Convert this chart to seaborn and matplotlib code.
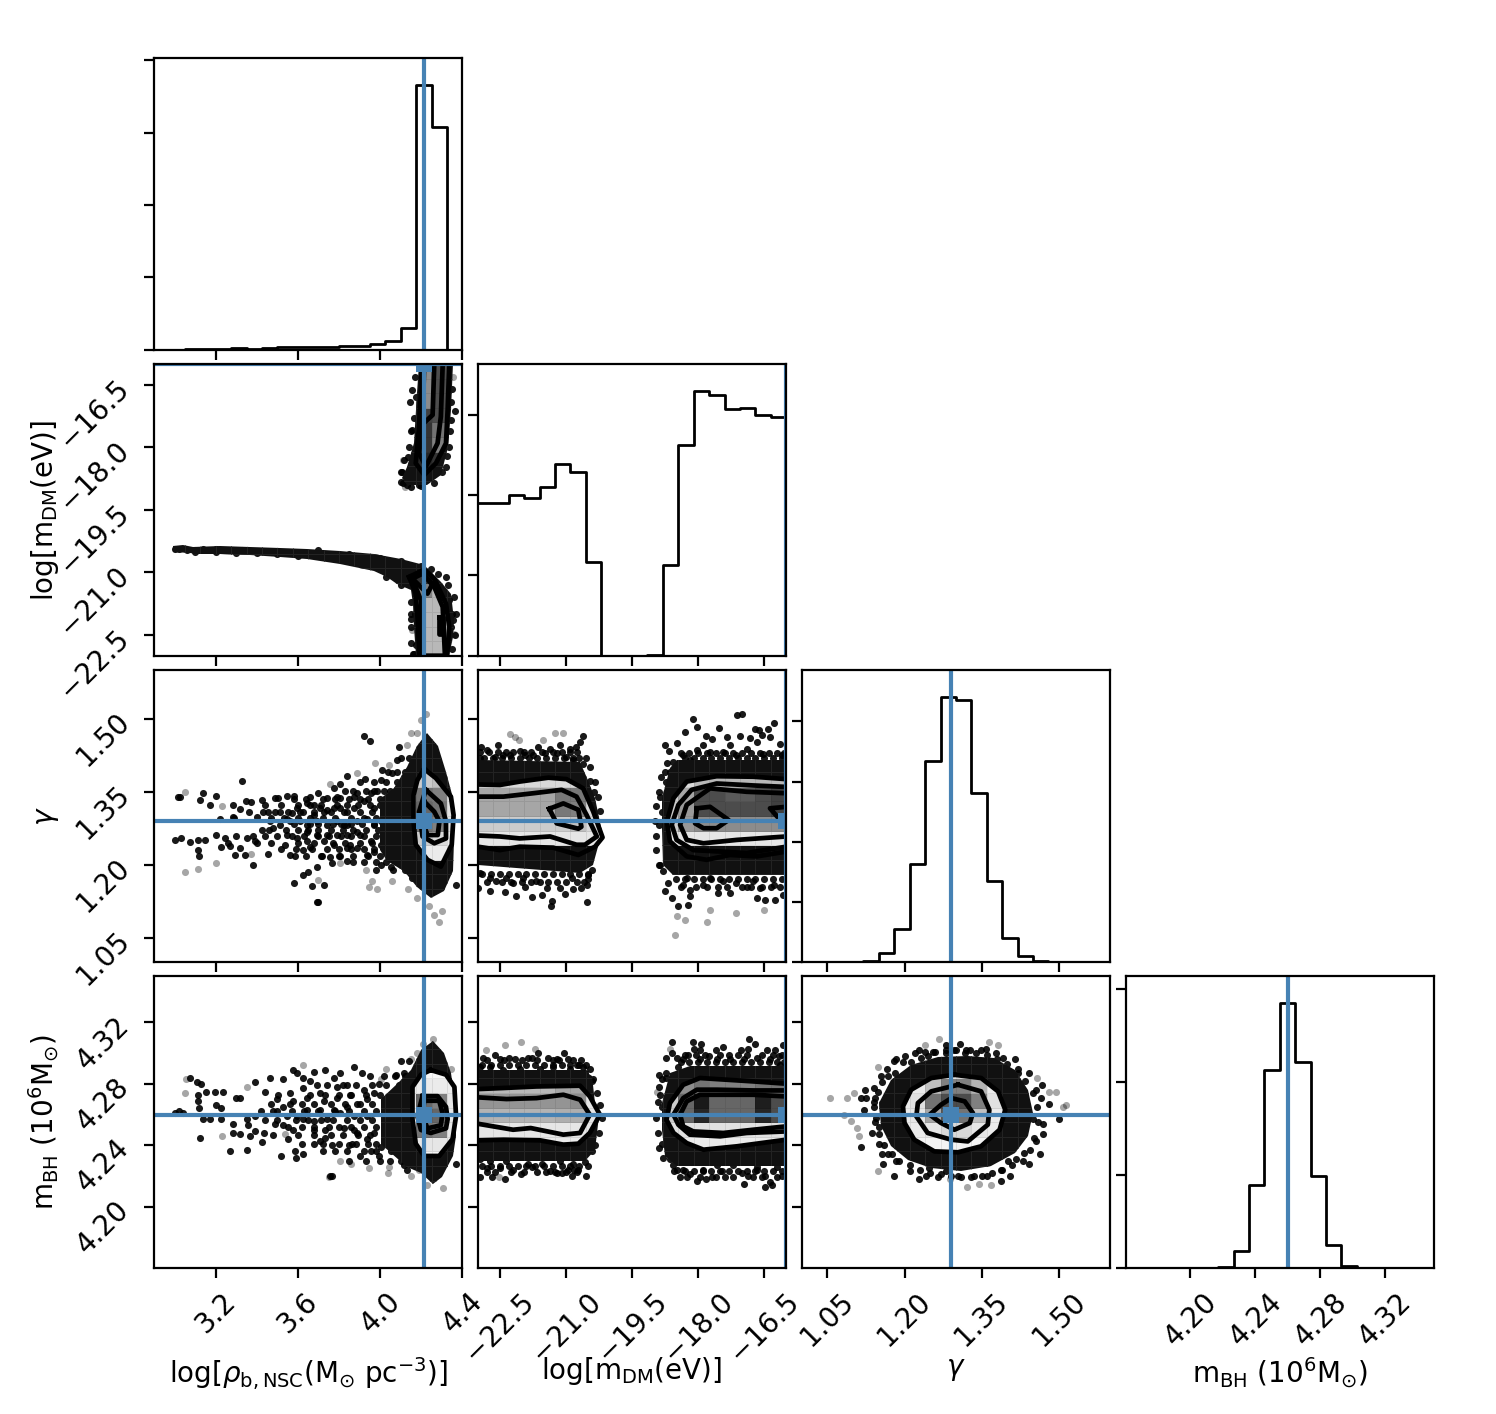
import numpy as np
import matplotlib
matplotlib.use('Agg')
import matplotlib.pyplot as plt
from matplotlib.patches import Polygon
import seaborn as sns

# axis ranges, ticks
rho_lim = (2.9, 4.4)
mdm_lim = (-23.0, -16.0)
gam_lim = (1.0, 1.6)
mbh_lim = (4.16, 4.35)
rho_ticks = [3.2, 3.6, 4.0, 4.4]
mdm_ticks = [-22.5, -21.0, -19.5, -18.0, -16.5]
gam_ticks = [1.05, 1.20, 1.35, 1.50]
mbh_ticks = [4.20, 4.24, 4.28, 4.32]
labels = [r'log[$\rho_{\rm b,NSC}$(M$_{\odot}$ pc$^{-3}$)]', r'log[m$_{\rm DM}$(eV)]',
          r'$\gamma$', r'm$_{\rm BH}$ (10$^6$M$_{\odot}$)']
truths = [4.212, -16.0, 1.29, 4.26]

# histogram heights (in y tick units), 20 bins each
hist_rho = [0, 0, .01, .01, .01, .02, .01, .02, .03, .04, .04, .04, .045, .055, .075, .115, .295, 3.665, 3.08, 0]
hist_mdm = [1.896, 1.896, 2.0, 1.958, 2.096, 2.39, 2.283, 1.167, 0, 0, 0, .0125, 1.133, 2.62, 3.3, 3.24, 3.07, 3.09, 3.0, 2.97]
hist_gam = [0, 0, 0, 0, .01, .14, .544, 1.628, 3.344, 4.41, 4.36, 2.806, 1.339, .389, .094, .01, 0, 0, 0, 0]
hist_mbh = [0, 0, 0, 0, 0, 0, .014, .187, .888, 2.13, 2.853, 2.216, .993, .248, .022, 0, 0, 0, 0, 0]
hist_yticks = [[0, 1, 2, 3, 4], [0, 1, 2, 3], [0, 1, 2, 3, 4], [0, 1, 2, 3]]

# --- rho / mdm panel
rm_core_low_x = [2.991, 3.04, 3.089, 3.22, 3.366, 3.513, 3.643, 3.806, 3.969, 4.1, 4.214, 4.295, 4.344, 4.357, 4.352, 4.336, 4.173, 4.165, 4.162, 4.149, 4.083, 4.035, 3.969, 3.806, 3.643, 3.513, 3.366, 3.22, 3.105, 3.073, 2.991]
rm_core_low_y = [-20.36, -20.35, -20.39, -20.37, -20.38, -20.41, -20.43, -20.48, -20.56, -20.67, -20.83, -21.23, -21.51, -22.15, -22.55, -23.0, -23.0, -22.31, -21.75, -21.43, -21.27, -21.1, -20.96, -20.79, -20.67, -20.63, -20.59, -20.56, -20.56, -20.53, -20.5]
rm_core_up_x = [4.189, 4.181, 4.165, 4.132, 4.108, 4.132, 4.23, 4.295, 4.328, 4.344, 4.352]
rm_core_up_y = [-16.0, -16.7, -17.9, -18.46, -18.74, -18.9, -18.9, -18.66, -17.98, -17.1, -16.0]
rm_up_outer_x = [4.336, 4.328, 4.32, 4.271, 4.214, 4.173, 4.189, 4.198, 4.201]
rm_up_outer_y = [-16.0, -17.1, -17.9, -18.38, -18.66, -18.38, -17.5, -16.7, -16.0]
rm_up_mid_x = [4.304, 4.295, 4.279, 4.222, 4.189, 4.206, 4.214]
rm_up_mid_y = [-16.0, -17.26, -17.9, -18.46, -18.14, -17.42, -16.0]
rm_up_in_x = [4.263, 4.255, 4.222]
rm_up_in_y = [-16.0, -17.22, -17.37]
rm_low_outer_x = [4.141, 4.214, 4.263, 4.32, 4.336, 4.325, 4.189, 4.184, 4.173, 4.141]
rm_low_outer_y = [-21.11, -20.93, -21.15, -21.75, -22.31, -23.0, -23.0, -22.23, -21.51, -21.11]
rm_low_mid_x = [4.157, 4.206, 4.263, 4.304, 4.315]
rm_low_mid_y = [-21.15, -21.03, -21.35, -21.83, -23.0]
rm_low_mid2_x = [4.201, 4.198, 4.157]
rm_low_mid2_y = [-23.0, -21.67, -21.15]
rm_low_in_x = [4.149, 4.23, 4.255, 4.206]
rm_low_in_y = [-21.11, -21.51, -21.27, -21.03]
rm_low_blob_x = [4.287, 4.304, 4.304, 4.287, 4.287]
rm_low_blob_y = [-22.07, -22.07, -22.47, -22.47, -22.07]
rm_up_cells = [[.1, .1, .1, .1], [.1, .15, .2, .1], [.1, .2, .5, .1], [.1, .2, .45, .1],
               [.1, .25, .3, .1], [.1, .55, .3, .1], [.1, .55, .3, .1], [.1, .55, .3, .1]]
rm_low_cells = [[.1, .72, .72, .1], [.1, .72, .72, .1], [.1, .72, .72, .1], [.1, .72, .72, .1],
                [.1, .5, .72, .1], [.1, .2, .3, .1]]
rm_dark_x = [4.157, 4.145, 4.157, 4.136, 4.108, 4.1, 4.365, 4.344, 4.336, 4.32, 4.132, 4.189, 4.149, 4.168, 4.352, 4.344, 4.173, 4.336, 4.165, 4.347, 4.32, 4.246, 3.0, 3.02, 3.06, 3.1, 3.14, 3.2, 3.26, 3.33, 3.4, 3.47, 3.55, 3.62, 3.7, 3.78, 3.86, 3.94, 4.02, 4.1, 4.16,
             4.17, 4.175, 4.165, 4.15, 4.14, 4.115, 4.1, 4.35, 4.345, 4.34, 4.325, 4.3, 4.26, 4.2, 4.15, 4.11,
             3.1, 3.2, 3.3, 3.4, 3.5, 3.6, 3.7, 3.85, 4.0, 4.1, 4.2, 4.28, 4.33, 4.36, 4.37, 4.365, 4.35, 4.15, 4.15, 4.15, 4.15, 4.16, 4.1, 4.03]
rm_dark_y = [-16.62, -16.9, -17.58, -18.22, -18.58, -18.82, -17.12, -17.34, -17.98, -18.46, -18.9, -18.9, -22.11, -21.99, -22.15, -22.31, -22.75, -21.67, -22.95, -21.99, -21.11, -20.91, -20.45, -20.43, -20.47, -20.46, -20.44, -20.45, -20.47, -20.47, -20.49, -20.5, -20.52, -20.56, -20.6, -20.64, -20.7, -20.76, -20.82, -20.9, -21.05,
             -16.3, -16.8, -17.3, -17.6, -18.0, -18.3, -18.6, -16.6, -16.9, -17.6, -18.2, -18.6, -18.85, -18.92, -18.95, -18.85,
             -20.52, -20.5, -20.53, -20.54, -20.55, -20.6, -20.47, -20.56, -20.66, -20.72, -20.85, -21.05, -21.3, -21.6, -22.0, -22.5, -22.85, -21.7, -22.0, -22.3, -22.7, -22.95, -21.3, -21.1]
rm_light_x = [4.352, 4.157, 4.357, 4.059, 4.11, 4.12]
rm_light_y = [-16.3, -22.39, -22.47, -21.03, -18.3, -18.95]

# --- rho / gamma panel
rg_core_x = [4.0, 4.067, 4.132, 4.181, 4.23, 4.279, 4.32, 4.352, 4.361, 4.352, 4.312, 4.246, 4.181, 4.116, 4.035, 4.0]
rg_core_y = [1.335, 1.357, 1.4, 1.445, 1.47, 1.445, 1.391, 1.337, 1.248, 1.186, 1.145, 1.131, 1.155, 1.186, 1.207, 1.23]
rg_outer_x = [4.214, 4.271, 4.344, 4.357, 4.348, 4.295, 4.23, 4.173, 4.162, 4.162, 4.181, 4.214]
rg_outer_y = [1.397, 1.378, 1.34, 1.302, 1.241, 1.196, 1.21, 1.241, 1.289, 1.343, 1.374, 1.397]
rg_mid_x = [4.222, 4.295, 4.32, 4.32, 4.263, 4.206, 4.189, 4.222]
rg_mid_y = [1.354, 1.326, 1.289, 1.254, 1.244, 1.258, 1.309, 1.354]
rg_in_x = [4.214, 4.263, 4.288, 4.28, 4.23, 4.206, 4.214]
rg_in_y = [1.33, 1.309, 1.289, 1.261, 1.261, 1.289, 1.33]
rg_cells = [[.92, .92, .92, .92], [.92, .8, .85, .92], [.92, .45, .5, .88], [.92, .4, .45, .88],
            [.92, .45, .5, .88], [.92, .8, .75, .92], [.95, .95, .85, .95], [.95, .95, .95, .95]]
rg_dark_x = [3.016, 3.027, 3.138, 3.203, 3.123, 3.171, 3.285, 3.329, 3.347, 3.374, 3.423, 3.489, 3.505, 3.546, 3.581, 3.399, 3.22, 3.285, 3.317, 3.456, 3.513, 3.57, 3.627, 3.66, 3.7, 3.774, 3.79, 3.803, 3.839, 3.904, 3.924, 3.92, 3.95, 4.002, 3.986, 4.092, 4.083, 4.01, 4.059, 3.872, 3.806, 3.741, 3.709, 3.676,
             3.0, 3.032, 3.073, 3.114, 3.146, 3.203, 3.244, 3.228, 3.268, 3.317, 3.114, 3.117, 3.293, 3.342, 3.383, 3.456, 3.35, 3.391, 3.423, 3.48, 3.546, 3.594, 3.537, 3.559, 3.586, 3.627, 3.66, 3.717, 3.754, 3.806, 3.855, 3.953, 3.904, 3.969, 4.002, 4.051, 4.1, 3.583, 3.624, 3.651, 3.668, 3.725, 3.692, 3.7, 3.692, 3.766, 3.839, 4.157,
             3.643, 3.692, 3.741, 3.79, 3.839, 3.888, 3.937, 3.676, 3.725, 3.774, 3.823, 3.872, 3.92, 3.969, 3.692, 3.741, 3.79, 3.839, 3.888, 3.823, 3.611, 3.643, 3.513, 3.562, 3.546, 3.464, 3.594, 3.643, 3.741, 3.806, 3.888, 3.953, 3.969, 4.002, 4.035, 4.035, 4.002, 3.937, 3.888, 3.839, 3.774, 3.725, 3.643, 4.035, 4.083, 4.369]
rg_dark_y = [1.34, 1.339, 1.347, 1.341, 1.333, 1.323, 1.323, 1.373, 1.33, 1.328, 1.334, 1.337, 1.338, 1.342, 1.341, 1.299, 1.294, 1.298, 1.315, 1.309, 1.309, 1.306, 1.309, 1.34, 1.347, 1.357, 1.34, 1.366, 1.382, 1.371, 1.376, 1.464, 1.455, 1.374, 1.352, 1.443, 1.415, 1.395, 1.388, 1.34, 1.316, 1.313, 1.316, 1.302,
             1.25, 1.254, 1.246, 1.251, 1.251, 1.261, 1.254, 1.236, 1.239, 1.234, 1.231, 1.218, 1.22, 1.22, 1.2, 1.222, 1.254, 1.248, 1.272, 1.275, 1.261, 1.254, 1.241, 1.22, 1.217, 1.23, 1.237, 1.217, 1.215, 1.217, 1.241, 1.248, 1.261, 1.227, 1.2, 1.196, 1.2, 1.162, 1.179, 1.185, 1.157, 1.159, 1.123, 1.124, 1.195, 1.203, 1.207, 1.172,
             1.282, 1.289, 1.282, 1.289, 1.282, 1.289, 1.295, 1.323, 1.309, 1.316, 1.309, 1.316, 1.33, 1.316, 1.261, 1.261, 1.261, 1.261, 1.268, 1.282, 1.289, 1.268, 1.282, 1.289, 1.295, 1.289, 1.316, 1.326, 1.337, 1.337, 1.347, 1.347, 1.282, 1.289, 1.302, 1.268, 1.241, 1.22, 1.234, 1.234, 1.241, 1.248, 1.248, 1.234, 1.227, 1.159]
rg_more = [(1.42, [4.1, 4.14]), (1.39, [4.04, 4.08, 4.12]), (1.37, [3.97, 4.03, 4.08]),
           (1.352, [3.83, 3.87, 3.93, 3.97, 4.02, 4.05]), (1.335, [3.58, 3.64, 3.72, 3.78, 3.85, 3.9, 3.94, 4.0]),
           (1.322, [3.44, 3.52, 3.6, 3.66, 3.71, 3.79, 3.84, 3.89, 3.95, 4.0]), (1.308, [3.36, 3.43, 3.49, 3.55, 3.61, 3.68, 3.76, 3.84, 3.9, 3.96]),
           (1.296, [3.29, 3.47, 3.53, 3.6, 3.66, 3.72, 3.78, 3.86, 3.92, 3.98]), (1.284, [3.58, 3.66, 3.7, 3.77, 3.81, 3.86, 3.91, 3.97]),
           (1.272, [3.46, 3.54, 3.6, 3.65, 3.7, 3.76, 3.82, 3.87, 3.93, 3.99]), (1.258, [3.3, 3.38, 3.44, 3.5, 3.57, 3.63, 3.7, 3.75, 3.81, 3.86, 3.92, 3.98]),
           (1.245, [3.26, 3.4, 3.47, 3.6, 3.68, 3.77, 3.83, 3.9, 3.96]), (1.232, [3.52, 3.59, 3.67, 3.74, 3.8, 3.86, 3.92, 3.97]),
           (1.218, [3.64, 3.71, 3.8, 3.87, 3.94, 4.0]), (1.205, [3.87, 3.92, 3.98, 4.03, 4.08]), (1.19, [3.98, 4.06, 4.12])]
rg_light_x = [3.052, 3.114, 3.052, 3.2, 3.374, 3.231, 3.929, 3.948, 3.986, 3.961, 4.059, 4.137, 4.181, 4.238, 4.263, 4.303, 4.287, 3.974, 4.149, 4.222, 4.198, 3.757, 3.888, 4.043, 4.132, 4.181, 3.7, 3.806]
rg_light_y = [1.35, 1.191, 1.185, 1.203, 1.222, 1.321, 1.189, 1.155, 1.15, 1.167, 1.166, 1.15, 1.131, 1.114, 1.097, 1.104, 1.083, 1.41, 1.471, 1.511, 1.497, 1.367, 1.388, 1.405, 1.446, 1.47, 1.169, 1.203]

# --- rho / mbh panel
rb_core_x = [4.002, 4.083, 4.149, 4.198, 4.255, 4.312, 4.344, 4.369, 4.369, 4.352, 4.303, 4.255, 4.198, 4.132, 4.051, 4.002]
rb_core_y = [4.27, 4.28, 4.289, 4.302, 4.308, 4.3, 4.287, 4.263, 4.246, 4.233, 4.219, 4.215, 4.222, 4.226, 4.235, 4.241]
rb_outer_x = [4.246, 4.32, 4.361, 4.369, 4.352, 4.287, 4.214, 4.173, 4.157, 4.157, 4.198, 4.246]
rb_outer_y = [4.289, 4.286, 4.278, 4.259, 4.244, 4.233, 4.233, 4.241, 4.257, 4.278, 4.286, 4.289]
rb_mid_x = [4.206, 4.279, 4.32, 4.328, 4.32, 4.246, 4.198, 4.181, 4.206]
rb_mid_y = [4.272, 4.272, 4.265, 4.257, 4.251, 4.248, 4.25, 4.259, 4.272]
rb_in_x = [4.214, 4.287, 4.303, 4.295, 4.23, 4.206, 4.214]
rb_in_y = [4.269, 4.269, 4.261, 4.253, 4.251, 4.259, 4.269]
rb_cells = [[.96, .96, .96, .96], [.9, .9, .9, .9], [.9, .45, .5, .9], [.9, .35, .4, .9],
            [.9, .4, .5, .9], [.92, .92, .92, .92], [.97, .97, .97, .97], [.97, .97, .97, .97]]
rb_dark_x = [3.024, 3.004, 3.04, 3.073, 3.109, 3.13, 3.151, 3.195, 3.236, 3.114, 3.114, 3.119, 3.203, 3.228, 3.301, 3.317, 3.391, 3.464, 3.529, 3.44, 3.505, 3.497, 3.562, 3.578, 3.594, 3.627, 3.676, 3.66, 3.692, 3.627, 3.733, 3.774, 3.806, 3.872, 3.912, 3.839, 3.79, 3.709, 3.643, 3.578, 3.529, 3.48,
             3.138, 3.171, 3.228, 3.285, 3.35, 3.391, 3.358, 3.489, 3.529, 3.578, 3.627, 3.676, 3.733, 3.823, 3.872, 3.122, 3.285, 3.317, 3.366, 3.391, 3.435, 3.423, 3.554, 3.586, 3.627, 3.516, 3.591, 3.268, 3.35, 3.709, 3.733, 3.766, 3.847, 3.904, 3.863, 3.766, 3.757, 3.953, 3.994, 4.051, 4.116, 4.132,
             3.643, 3.709, 3.774, 3.839, 3.888, 3.937, 3.969, 3.676, 3.741, 3.806, 3.872, 3.937, 3.969, 3.888, 3.937, 4.002, 3.594, 3.546, 3.725, 3.79, 3.855, 3.92, 3.994, 4.075, 4.116, 4.067, 4.1, 4.369]
rb_dark_y = [4.262, 4.261, 4.261, 4.284, 4.281, 4.28, 4.275, 4.275, 4.275, 4.273, 4.269, 4.264, 4.266, 4.264, 4.271, 4.271, 4.281, 4.284, 4.283, 4.275, 4.273, 4.27, 4.274, 4.289, 4.287, 4.284, 4.288, 4.282, 4.279, 4.277, 4.289, 4.284, 4.287, 4.291, 4.287, 4.279, 4.278, 4.274, 4.271, 4.269, 4.265, 4.262,
             4.257, 4.257, 4.257, 4.254, 4.257, 4.259, 4.253, 4.254, 4.253, 4.25, 4.257, 4.256, 4.25, 4.251, 4.25, 4.245, 4.248, 4.247, 4.246, 4.249, 4.248, 4.242, 4.244, 4.236, 4.234, 4.233, 4.232, 4.236, 4.237, 4.243, 4.245, 4.24, 4.24, 4.233, 4.241, 4.22, 4.22, 4.236, 4.233, 4.236, 4.227, 4.224,
             4.263, 4.263, 4.263, 4.265, 4.267, 4.27, 4.274, 4.25, 4.257, 4.261, 4.259, 4.259, 4.248, 4.248, 4.244, 4.239, 4.259, 4.259, 4.269, 4.271, 4.273, 4.276, 4.28, 4.286, 4.287, 4.241, 4.236, 4.228]
rb_more = [(4.295, [4.1, 4.14]), (4.285, [3.95, 4.02, 4.07, 4.12]), (4.279, [3.74, 3.82, 3.88, 3.96, 4.03, 4.09]),
           (4.273, [3.66, 3.73, 3.8, 3.86, 3.93, 4.0]), (4.267, [3.47, 3.56, 3.62, 3.68, 3.76, 3.83, 3.9, 3.96]),
           (4.262, [3.42, 3.5, 3.57, 3.63, 3.7, 3.78, 3.85, 3.92, 3.98]), (4.2565, [3.44, 3.5, 3.59, 3.65, 3.71, 3.77, 3.84, 3.9, 3.96]),
           (4.252, [3.55, 3.62, 3.68, 3.75, 3.8, 3.86, 3.92, 3.98]), (4.2465, [3.48, 3.6, 3.68, 3.76, 3.82, 3.89, 3.95]),
           (4.241, [3.62, 3.68, 3.72, 3.8, 3.88, 3.94, 3.98]), (4.236, [3.72, 3.78, 3.84, 3.92, 3.98]), (4.23, [3.85, 3.93, 4.0, 4.05, 4.1])]
rb_light_x = [3.052, 3.057, 3.35, 3.233, 3.537, 3.627, 3.806, 3.86, 3.945, 4.039, 4.043, 4.026, 4.002, 4.149, 4.181, 4.149, 4.189, 4.23, 4.304, 4.255, 4.206, 4.344, 3.749]
rb_light_y = [4.274, 4.283, 4.278, 4.246, 4.247, 4.292, 4.23, 4.228, 4.225, 4.222, 4.226, 4.29, 4.283, 4.296, 4.3, 4.22, 4.224, 4.214, 4.212, 4.309, 4.306, 4.29, 4.219]

# --- mdm / gamma panel
mg_core_l_x = [-23.0, -20.68, -20.53, -20.34, -20.19, -20.38, -20.68, -23.0]
mg_core_l_y = [1.415, 1.412, 1.378, 1.337, 1.268, 1.2, 1.183, 1.2]
mg_core_r_x = [-18.64, -18.49, -16.0, -16.0, -18.56, -18.79, -18.83, -18.83]
mg_core_r_y = [1.398, 1.415, 1.415, 1.179, 1.179, 1.2, 1.275, 1.337]
mg_l_outer_x = [-23.0, -22.5, -22.05, -21.4, -20.99, -20.61, -20.38, -20.17, -20.34, -20.72, -21.29, -22.05, -22.5, -23.0]
mg_l_outer_y = [1.365, 1.364, 1.371, 1.379, 1.376, 1.357, 1.309, 1.256, 1.237, 1.22, 1.235, 1.237, 1.23, 1.237]
mg_l_mid_x = [-23.0, -22.42, -21.74, -21.1, -20.76, -20.53, -20.3, -20.57, -20.76, -21.36, -22.05, -22.5, -23.0]
mg_l_mid_y = [1.34, 1.34, 1.347, 1.354, 1.34, 1.302, 1.258, 1.241, 1.241, 1.258, 1.254, 1.258, 1.26]
mg_l_in_x = [-21.38, -21.06, -20.72, -20.65, -20.72, -21.21, -21.38]
mg_l_in_y = [1.315, 1.326, 1.313, 1.278, 1.274, 1.285, 1.315]
mg_r_outer_x = [-16.0, -16.75, -17.58, -18.26, -18.56, -18.71, -18.64, -18.26, -17.81, -17.28, -16.67, -16.0]
mg_r_outer_y = [1.376, 1.381, 1.382, 1.371, 1.337, 1.289, 1.248, 1.217, 1.21, 1.22, 1.217, 1.227]
mg_r_mid_x = [-16.0, -16.75, -17.58, -18.15, -18.45, -18.6, -18.49, -18.11, -17.5, -16.9, -16.0]
mg_r_mid_y = [1.36, 1.363, 1.367, 1.354, 1.323, 1.282, 1.251, 1.23, 1.227, 1.224, 1.237]
mg_r_mid2_x = [-16.0, -16.9, -17.73, -18.26, -18.41, -18.26, -17.88, -17.12, -16.0]
mg_r_mid2_y = [1.347, 1.35, 1.357, 1.323, 1.282, 1.251, 1.244, 1.251, 1.258]
mg_r_in_x = [-18.03, -17.73, -17.31, -17.58, -17.88, -18.07, -18.03]
mg_r_in_y = [1.316, 1.319, 1.292, 1.275, 1.275, 1.285, 1.316]
mg_r_in2_x = [-16.0, -16.37, -16.14, -16.0]
mg_r_in2_y = [1.319, 1.316, 1.292, 1.289]
mg_l_cells = [[.9] * 8, [.8, .8, .8, .8, .8, .8, .75, .85], [.65, .65, .65, .65, .65, .47, .5, .85],
              [.65, .65, .65, .65, .65, .47, .47, .9], [.85, .85, .85, .85, .85, .85, .85, .9], [.92] * 8]
mg_r_cells = [[.9] * 8, [.8, .6, .55, .55, .55, .55, .55, .55], [.8, .6, .3, .3, .3, .3, .3, .25],
              [.8, .65, .3, .3, .35, .35, .3, .25], [.85, .85, .72, .72, .72, .72, .72, .72], [.92] * 8]
mg_dark_x = [-20.61, -20.68, -20.77, -21.14, -22.54, -22.92, -22.8, -22.27, -22.05, -21.63, -21.36, -20.91, -20.61, -20.46, -20.37, -20.46, -21.93, -21.21, -20.99, -20.83, -22.95, -22.61, -22.42, -21.74, -21.48,
             -22.95, -22.73, -22.58, -22.35, -22.2, -21.93, -21.55, -22.14, -21.78, -22.39, -22.73, -21.33, -21.31, -20.53, -20.52, -21.02, -20.83, -20.65, -21.14, -21.44, -21.67, -21.97, -20.87, -20.76, -20.49, -22.99,
             -18.11, -18.02, -18.31, -18.75, -18.47, -18.66, -17.82, -17.52, -17.11, -17.0, -16.29, -16.71, -16.63, -16.41, -17.35, -17.69, -17.88, -18.34, -17.73, -18.03, -17.28, -17.05, -16.82, -16.56, -16.14, -16.37, -16.67, -16.9, -16.52, -16.1, -17.43, -17.13, -18.19, -18.56, -18.64, -18.72, -18.87, -18.83, -18.9,
             -18.87, -18.79, -18.68, -18.75, -18.6, -18.45, -18.19, -18.34, -18.19, -18.22, -17.56, -17.88, -17.28, -17.13, -16.9, -16.67, -16.48, -16.25, -16.07, -16.29, -16.75, -17.43, -16.6, -18.26, -17.73,
             -18.85, -18.9, -18.95, -18.98, -18.95, -18.95, -18.9, -18.75, -18.7, -20.45, -20.35, -20.28, -20.22, -20.4, -20.5]
mg_dark_y = [1.464, 1.453, 1.443, 1.446, 1.446, 1.443, 1.436, 1.425, 1.434, 1.443, 1.439, 1.439, 1.408, 1.373, 1.35, 1.323, 1.425, 1.429, 1.422, 1.415, 1.419, 1.422, 1.425, 1.425, 1.429,
             1.183, 1.172, 1.166, 1.172, 1.162, 1.155, 1.138, 1.136, 1.133, 1.144, 1.145, 1.114, 1.126, 1.123, 1.159, 1.14, 1.15, 1.152, 1.152, 1.152, 1.166, 1.172, 1.172, 1.196, 1.179, 1.152,
             1.499, 1.484, 1.472, 1.447, 1.451, 1.434, 1.465, 1.482, 1.508, 1.511, 1.492, 1.48, 1.477, 1.48, 1.463, 1.458, 1.446, 1.425, 1.432, 1.436, 1.446, 1.465, 1.46, 1.466, 1.449, 1.463, 1.453, 1.439, 1.427, 1.425, 1.432, 1.425, 1.415, 1.412, 1.391, 1.371, 1.34, 1.309, 1.282,
             1.2, 1.186, 1.162, 1.145, 1.131, 1.114, 1.148, 1.159, 1.135, 1.118, 1.142, 1.159, 1.142, 1.162, 1.155, 1.131, 1.128, 1.128, 1.138, 1.159, 1.166, 1.166, 1.152, 1.172, 1.172,
             1.38, 1.35, 1.32, 1.29, 1.26, 1.23, 1.2, 1.39, 1.41, 1.40, 1.37, 1.34, 1.31, 1.19, 1.17]
mg_more = [(1.432, [-22.95, -22.75, -22.55, -22.35, -22.2, -21.95, -21.8, -21.55, -21.3, -21.1, -20.9, -20.75]),
           (1.42, [-22.85, -22.65, -22.45, -22.25, -22.05, -21.85, -21.65, -21.45, -21.25, -21.05, -20.85, -20.7, -20.55]),
           (1.18, [-22.9, -22.7, -22.5, -22.3, -22.1, -21.9, -21.7, -21.5, -21.3, -21.1, -20.9, -20.7, -20.5]),
           (1.165, [-22.8, -22.45, -22.25, -22.0, -21.8, -21.6, -21.4, -21.2, -21.0, -20.75, -20.6]),
           (1.43, [-18.4, -18.2, -18.0, -17.8, -17.6, -17.4, -17.2, -17.0, -16.8, -16.6, -16.4, -16.2, -16.05]),
           (1.42, [-18.3, -18.1, -17.9, -17.7, -17.5, -17.3, -17.1, -16.9, -16.7, -16.5, -16.3, -16.1]),
           (1.17, [-18.5, -18.3, -18.1, -17.9, -17.7, -17.5, -17.3, -17.1, -16.9, -16.7, -16.5, -16.3, -16.1]),
           (1.155, [-18.4, -18.05, -17.8, -17.55, -17.35, -17.0, -16.8, -16.55, -16.35, -16.15])]
mg_light_x = [-22.26, -22.16, -22.06, -21.24, -21.06, -21.52, -18.47, -18.3, -18.53, -17.81, -17.73, -17.14, -16.5]
mg_light_y = [1.468, 1.463, 1.456, 1.47, 1.471, 1.456, 1.094, 1.087, 1.056, 1.082, 1.107, 1.101, 1.107]

# --- mdm / mbh panel
mb_core_l_x = [-23.0, -20.61, -20.42, -20.34, -20.26, -20.34, -20.57, -23.0]
mb_core_l_y = [4.2892, 4.2892, 4.2848, 4.2675, 4.2588, 4.2371, 4.2295, 4.2295]
mb_core_r_x = [-18.64, -18.19, -16.0, -16.0, -18.49, -18.75, -18.83, -18.83]
mb_core_r_y = [4.287, 4.2914, 4.2914, 4.2263, 4.2263, 4.2328, 4.2501, 4.2675]
mb_l_outer_x = [-23.0, -22.42, -21.67, -20.68, -20.46, -20.23, -20.46, -20.72, -21.06, -21.59, -22.42, -23.0]
mb_l_outer_y = [4.2766, 4.2773, 4.2783, 4.2788, 4.2718, 4.2599, 4.248, 4.241, 4.2404, 4.2432, 4.2436, 4.2432]
mb_l_mid_x = [-23.0, -22.35, -21.67, -21.06, -20.68, -20.46, -20.68, -21.06, -21.8, -22.2, -23.0]
mb_l_mid_y = [4.2712, 4.2701, 4.2707, 4.2729, 4.2697, 4.2599, 4.248, 4.2469, 4.2512, 4.2501, 4.254]
mb_r_outer_x = [-16.0, -16.75, -17.58, -17.96, -18.34, -18.64, -18.72, -18.56, -18.26, -17.88, -17.12, -16.0]
mb_r_outer_y = [4.2801, 4.2816, 4.2831, 4.2838, 4.2794, 4.2675, 4.2566, 4.248, 4.2414, 4.2371, 4.2393, 4.2436]
mb_r_mid_x = [-16.0, -16.75, -17.58, -18.03, -18.34, -18.56, -18.45, -18.19, -17.5, -16.9, -16.0]
mb_r_mid_y = [4.2757, 4.2757, 4.2762, 4.2762, 4.2707, 4.2599, 4.2534, 4.2469, 4.2458, 4.248, 4.249]
mb_r_in_x = [-16.0, -16.75, -17.58, -17.96, -18.26, -18.41, -18.34, -18.11, -17.43, -16.75, -16.0]
mb_r_in_y = [4.2718, 4.2729, 4.2729, 4.2729, 4.2686, 4.2599, 4.2523, 4.2490, 4.248, 4.2501, 4.2523]
mb_l_cells = [[.92] * 8, [.9] * 8, [.7, .7, .7, .7, .7, .68, .68, .9], [.58, .58, .58, .58, .58, .58, .55, .9],
              [.72, .72, .72, .72, .72, .65, .65, .9], [.92] * 8]
mb_r_cells = [[.92] * 8, [.88] * 8, [.8, .4, .15, .4, .4, .4, .15, .3], [.8, .4, .1, .4, .4, .4, .12, .3],
              [.85, .55, .45, .5, .5, .5, .45, .45], [.92] * 8]
mb_dark_x = [-22.88, -22.61, -22.5, -22.29, -22.16, -21.86, -21.78, -21.64, -21.4, -21.04, -21.2, -20.95, -20.76, -20.61, -20.46, -22.95, -22.73, -22.42, -22.05, -21.59, -21.29, -20.91, -20.57, -20.38,
             -22.95, -22.69, -22.39, -22.8, -22.5, -22.2, -22.01, -21.86, -21.78, -21.36, -21.21, -21.08, -20.95, -20.81, -20.72, -20.55, -20.57, -20.87, -22.95, -22.73, -22.35, -21.55, -21.14, -20.83, -20.42,
             -18.6, -18.72, -18.6, -18.47, -18.88, -18.11, -17.94, -17.96, -18.09, -18.22, -17.6, -17.43, -16.84, -16.72, -17.03, -16.88, -16.44, -16.25, -16.16, -16.07, -17.75, -17.96, -17.58, -17.28, -16.97, -16.67, -16.37, -16.14, -18.34, -18.45, -18.72, -18.83,
             -18.83, -18.87, -18.83, -18.64, -18.56, -18.41, -18.34, -18.19, -18.02, -17.82, -17.69, -17.47, -17.2, -17.01, -16.97, -16.86, -16.67, -16.48, -16.37, -16.48, -16.33, -16.1, -17.88, -17.58, -16.67, -16.22, -18.49,
             -18.9, -18.92, -18.95, -18.92, -18.9, -18.8, -18.72, -20.4, -20.3, -20.22, -20.18, -20.25, -20.35]
mb_dark_y = [4.297, 4.299, 4.296, 4.297, 4.296, 4.297, 4.297, 4.3, 4.297, 4.3, 4.296, 4.296, 4.292, 4.291, 4.29, 4.291, 4.291, 4.289, 4.29, 4.29, 4.291, 4.29, 4.287, 4.283,
             4.219, 4.219, 4.218, 4.225, 4.225, 4.224, 4.221, 4.228, 4.226, 4.223, 4.222, 4.222, 4.224, 4.224, 4.224, 4.22, 4.229, 4.22, 4.231, 4.23, 4.23, 4.228, 4.23, 4.228, 4.236,
             4.307, 4.297, 4.3, 4.297, 4.286, 4.307, 4.306, 4.302, 4.303, 4.299, 4.302, 4.304, 4.309, 4.306, 4.302, 4.303, 4.302, 4.302, 4.298, 4.305, 4.298, 4.296, 4.296, 4.296, 4.296, 4.297, 4.296, 4.292, 4.296, 4.291, 4.287, 4.283,
             4.241, 4.273, 4.265, 4.231, 4.227, 4.219, 4.224, 4.221, 4.217, 4.218, 4.219, 4.223, 4.227, 4.222, 4.215, 4.22, 4.224, 4.22, 4.216, 4.213, 4.214, 4.22, 4.224, 4.227, 4.226, 4.226, 4.224,
             4.278, 4.268, 4.258, 4.248, 4.238, 4.232, 4.284, 4.282, 4.274, 4.266, 4.258, 4.248, 4.24]
mb_more = [(4.2925, [-22.9, -22.7, -22.5, -22.3, -22.1, -21.9, -21.7, -21.5, -21.3, -21.1, -20.9, -20.7, -20.55]),
           (4.2955, [-22.8, -22.4, -22.0, -21.65, -21.3, -21.15, -20.85, -20.65]),
           (4.2265, [-22.9, -22.7, -22.5, -22.3, -22.1, -21.9, -21.7, -21.5, -21.3, -21.1, -20.9, -20.7, -20.5]),
           (4.2225, [-22.8, -22.6, -22.25, -21.95, -21.65, -21.45, -21.25, -21.0, -20.75]),
           (4.2945, [-18.4, -18.2, -18.0, -17.8, -17.6, -17.4, -17.2, -17.0, -16.8, -16.6, -16.4, -16.2, -16.05]),
           (4.299, [-18.3, -18.05, -17.85, -17.5, -17.3, -17.1, -16.9, -16.55, -16.3, -16.1]),
           (4.223, [-18.55, -18.3, -18.1, -17.9, -17.7, -17.5, -17.3, -17.1, -16.9, -16.7, -16.5, -16.3, -16.1]),
           (4.219, [-18.25, -17.95, -17.6, -17.4, -17.2, -16.75, -16.55, -16.2])]
mb_light_x = [-22.82, -22.39, -22.02, -21.71, -18.64, -22.52, -18.94]
mb_light_y = [4.302, 4.305, 4.307, 4.303, 4.303, 4.219, 4.275]

# --- gamma / mbh panel
gb_core_x = [1.151, 1.174, 1.213, 1.265, 1.323, 1.375, 1.414, 1.44, 1.45, 1.44, 1.414, 1.369, 1.31, 1.252, 1.206, 1.174, 1.155]
gb_core_y = [4.2675, 4.2827, 4.2924, 4.2974, 4.2983, 4.2968, 4.2892, 4.2762, 4.2610, 4.2458, 4.2349, 4.2263, 4.223, 4.2252, 4.2306, 4.2393, 4.2523]
gb_outer_x = [1.297, 1.349, 1.382, 1.396, 1.385, 1.349, 1.304, 1.258, 1.219, 1.2, 1.197, 1.213, 1.252, 1.297]
gb_outer_y = [4.2859, 4.2838, 4.2751, 4.2631, 4.2501, 4.2393, 4.2354, 4.236, 4.2436, 4.2545, 4.2653, 4.2762, 4.2838, 4.2859]
gb_mid_x = [1.304, 1.349, 1.365, 1.362, 1.323, 1.291, 1.245, 1.223, 1.226, 1.252, 1.304]
gb_mid_y = [4.2794, 4.2751, 4.2631, 4.2534, 4.2425, 4.2436, 4.248, 4.2588, 4.2675, 4.2751, 4.2794]
gb_in_x = [1.291, 1.317, 1.333, 1.327, 1.297, 1.271, 1.249, 1.271, 1.291]
gb_in_y = [4.2707, 4.2686, 4.261, 4.2545, 4.2501, 4.2545, 4.2599, 4.2664, 4.2707]
gb_cells = [[.95, .95, .95, .95, .95, .95, .95, .95], [.92, .92, .9, .85, .85, .9, .92, .92],
            [.92, .9, .65, .35, .45, .75, .92, .92], [.92, .88, .45, .3, .3, .5, .88, .92],
            [.92, .92, .75, .5, .5, .7, .92, .92], [.92, .92, .95, .95, .9, .93, .95, .92]]
gb_dark_x = [1.229, 1.28, 1.308, 1.297, 1.327, 1.317, 1.349, 1.359, 1.378, 1.391, 1.414, 1.421, 1.443, 1.255, 1.245, 1.232, 1.213, 1.197, 1.184, 1.168, 1.156, 1.181, 1.281,
             1.123, 1.14, 1.116, 1.125, 1.142, 1.122, 1.14, 1.137, 1.151, 1.116, 1.151, 1.156, 1.168, 1.158, 1.184, 1.179,
             1.467, 1.455, 1.466, 1.482, 1.5, 1.469, 1.469, 1.45, 1.456, 1.463, 1.443, 1.432, 1.417, 1.401, 1.388, 1.406, 1.388, 1.361, 1.335, 1.304, 1.265, 1.228, 1.211, 1.242, 1.247, 1.281,
             1.14, 1.145, 1.148, 1.155, 1.165, 1.18, 1.2, 1.22, 1.24, 1.26, 1.28, 1.3, 1.32, 1.34, 1.36, 1.38, 1.4, 1.42, 1.435, 1.45, 1.458, 1.46, 1.452, 1.445, 1.43, 1.41, 1.39, 1.37, 1.35, 1.33, 1.31, 1.29, 1.27, 1.25, 1.23, 1.21, 1.19, 1.175, 1.16, 1.15, 1.143]
gb_dark_y = [4.302, 4.305, 4.306, 4.302, 4.302, 4.3, 4.302, 4.303, 4.3, 4.297, 4.296, 4.29, 4.287, 4.301, 4.298, 4.297, 4.294, 4.294, 4.296, 4.285, 4.281, 4.287, 4.3,
             4.276, 4.277, 4.271, 4.271, 4.271, 4.263, 4.265, 4.248, 4.252, 4.239, 4.241, 4.234, 4.234, 4.228, 4.23, 4.22,
             4.279, 4.276, 4.271, 4.267, 4.257, 4.254, 4.247, 4.257, 4.243, 4.234, 4.228, 4.235, 4.231, 4.23, 4.224, 4.22, 4.217, 4.22, 4.22, 4.22, 4.219, 4.218, 4.223, 4.22, 4.225, 4.223,
             4.268, 4.258, 4.275, 4.285, 4.29, 4.295, 4.298, 4.3, 4.301, 4.301, 4.302, 4.302, 4.302, 4.3, 4.299, 4.296, 4.293, 4.287, 4.282, 4.274, 4.265, 4.255, 4.245, 4.237, 4.23, 4.227, 4.224, 4.222, 4.22, 4.219, 4.219, 4.22, 4.221, 4.222, 4.224, 4.227, 4.23, 4.234, 4.24, 4.247, 4.255]
gb_light_x = [1.239, 1.268, 1.364, 1.382, 1.458, 1.148, 1.056, 1.088, 1.101, 1.083, 1.096, 1.108, 1.112, 1.148, 1.482, 1.495, 1.515, 1.508, 1.369, 1.345, 1.322, 1.288]
gb_light_y = [4.305, 4.309, 4.307, 4.305, 4.284, 4.291, 4.271, 4.271, 4.274, 4.26, 4.256, 4.251, 4.246, 4.223, 4.275, 4.275, 4.266, 4.265, 4.214, 4.215, 4.213, 4.218]

limits = [rho_lim, mdm_lim, gam_lim, mbh_lim]
ticks = [rho_ticks, mdm_ticks, gam_ticks, mbh_ticks]
hists = [hist_rho, hist_mdm, hist_gam, hist_mbh]

panels = {
    (1, 0): dict(dark=(rm_dark_x, rm_dark_y), light=(rm_light_x, rm_light_y), more=[],
                 core=[(rm_core_low_x, rm_core_low_y), (rm_core_up_x, rm_core_up_y)],
                 blocks=[(16, 12, rm_up_cells, rm_up_outer_x, rm_up_outer_y), (16, 0, rm_low_cells, rm_low_outer_x, rm_low_outer_y)],
                 lines=[(rm_up_outer_x, rm_up_outer_y), (rm_up_mid_x, rm_up_mid_y), (rm_up_in_x, rm_up_in_y),
                        (rm_low_outer_x, rm_low_outer_y), (rm_low_mid_x, rm_low_mid_y), (rm_low_mid2_x, rm_low_mid2_y),
                        (rm_low_in_x, rm_low_in_y), (rm_low_blob_x, rm_low_blob_y)]),
    (2, 0): dict(dark=(rg_dark_x, rg_dark_y), light=(rg_light_x, rg_light_y), more=rg_more, core=[(rg_core_x, rg_core_y)],
                 blocks=[(16, 7, rg_cells, rg_outer_x, rg_outer_y)],
                 lines=[(rg_outer_x, rg_outer_y), (rg_mid_x, rg_mid_y), (rg_in_x, rg_in_y)]),
    (3, 0): dict(dark=(rb_dark_x, rb_dark_y), light=(rb_light_x, rb_light_y), more=rb_more, core=[(rb_core_x, rb_core_y)],
                 blocks=[(16, 7, rb_cells, rb_outer_x, rb_outer_y)],
                 lines=[(rb_outer_x, rb_outer_y), (rb_mid_x, rb_mid_y), (rb_in_x, rb_in_y)]),
    (2, 1): dict(dark=(mg_dark_x, mg_dark_y), light=(mg_light_x, mg_light_y), more=mg_more,
                 core=[(mg_core_l_x, mg_core_l_y), (mg_core_r_x, mg_core_r_y)],
                 blocks=[(0, 8, mg_l_cells, mg_l_outer_x, mg_l_outer_y), (12, 8, mg_r_cells, mg_r_outer_x, mg_r_outer_y)],
                 lines=[(mg_l_outer_x, mg_l_outer_y), (mg_l_mid_x, mg_l_mid_y), (mg_l_in_x, mg_l_in_y),
                        (mg_r_outer_x, mg_r_outer_y), (mg_r_mid_x, mg_r_mid_y), (mg_r_mid2_x, mg_r_mid2_y),
                        (mg_r_in_x, mg_r_in_y), (mg_r_in2_x, mg_r_in2_y)]),
    (3, 1): dict(dark=(mb_dark_x, mb_dark_y), light=(mb_light_x, mb_light_y), more=mb_more,
                 core=[(mb_core_l_x, mb_core_l_y), (mb_core_r_x, mb_core_r_y)],
                 blocks=[(0, 8, mb_l_cells, mb_l_outer_x, mb_l_outer_y), (12, 8, mb_r_cells, mb_r_outer_x, mb_r_outer_y)],
                 lines=[(mb_l_outer_x, mb_l_outer_y), (mb_l_mid_x, mb_l_mid_y), (mb_r_outer_x, mb_r_outer_y),
                        (mb_r_mid_x, mb_r_mid_y), (mb_r_in_x, mb_r_in_y)]),
    (3, 2): dict(dark=(gb_dark_x, gb_dark_y), light=(gb_light_x, gb_light_y), more=[], core=[(gb_core_x, gb_core_y)],
                 blocks=[(6, 8, gb_cells, gb_outer_x, gb_outer_y)],
                 lines=[(gb_outer_x, gb_outer_y), (gb_mid_x, gb_mid_y), (gb_in_x, gb_in_y)]),
}

BLUE = '#4682b4'


def clip_mesh(ax, mesh, x, y):
    patch = Polygon(np.column_stack([x, y]), closed=True, transform=ax.transData)
    mesh.set_clip_path(patch)


def draw_2d(ax, spec, xlim, ylim):
    xbins = np.linspace(xlim[0], xlim[1], 21)
    ybins = np.linspace(ylim[0], ylim[1], 21)
    more_x = [v for y, xs in spec['more'] for v in xs]
    more_y = [y for y, xs in spec['more'] for v in xs]
    sns.scatterplot(x=spec['light'][0], y=spec['light'][1], color='k', s=6.5, alpha=0.35, linewidth=0, zorder=1, ax=ax)
    sns.scatterplot(x=spec['dark'][0] + more_x, y=spec['dark'][1] + more_y, color='k', s=6.5, alpha=0.9, linewidth=0, zorder=1, ax=ax)
    for x, y in spec['core']:
        mesh = ax.pcolormesh(xbins, ybins, np.full((20, 20), 0.07), cmap='gray', vmin=0, vmax=1,
                             edgecolors=(1, 1, 1, 0.08), linewidth=0.3, zorder=1.2)
        clip_mesh(ax, mesh, x, y)
    for col0, row0, cells, x, y in spec['blocks']:
        cells = np.array(cells)
        mesh = ax.pcolormesh(xbins[col0:col0 + cells.shape[1] + 1], ybins[row0:row0 + cells.shape[0] + 1], cells,
                             cmap='gray', vmin=0, vmax=1, edgecolors=(0, 0, 0, 0.08), linewidth=0.3, zorder=1.4)
        clip_mesh(ax, mesh, x, y)
    for x, y in spec['lines']:
        sns.lineplot(x=x, y=y, sort=False, estimator=None, color='k', linewidth=1.7, zorder=1.6, ax=ax)


fig, axes = plt.subplots(4, 4, figsize=(7.48, 7.07), dpi=200)
fig.subplots_adjust(left=154 / 1496, right=1434 / 1496, top=1 - 58 / 1414, bottom=1 - 1268 / 1414, wspace=0.05, hspace=0.05)

for i in range(4):
    for j in range(4):
        ax = axes[i, j]
        if j > i:
            ax.set_axis_off()
            continue
        if i == j:
            edges = np.linspace(limits[j][0], limits[j][1], 21)
            centers = (edges[:-1] + edges[1:]) / 2
            sns.histplot(x=centers, weights=hists[j], bins=edges.tolist(), element='step', fill=False,
                         color='k', linewidth=1, ax=ax)
            ax.axvline(truths[j], color=BLUE, linewidth=1.5, zorder=2)
            ax.set_ylim(0, 1.1 * max(hists[j]))
            ax.set_yticks(hist_yticks[j])
            ax.tick_params(labelleft=False)
        else:
            draw_2d(ax, panels[(i, j)], limits[j], limits[i])
            ax.axvline(truths[j], color=BLUE, linewidth=1.5, zorder=2)
            ax.axhline(truths[i], color=BLUE, linewidth=1.5, zorder=2)
            sns.scatterplot(x=[truths[j]], y=[truths[i]], marker='s', s=36, color=BLUE, linewidth=0, zorder=2, ax=ax)
            ax.set_ylim(limits[i])
            ax.set_yticks(ticks[i])
            if j == 0:
                ax.tick_params(axis='y', labelrotation=45)
                ax.set_ylabel(labels[i])
                ax.yaxis.set_label_coords(-0.3, 0.5)
            else:
                ax.tick_params(labelleft=False)
        if j > 0 or i == 0:
            ax.set_ylabel('')
        ax.set_xlim(limits[j])
        ax.set_xticks(ticks[j])
        ax.set_xlabel('')
        if i == 3:
            ax.tick_params(axis='x', labelrotation=45)
            ax.set_xlabel(labels[j])
            ax.xaxis.set_label_coords(0.5, -0.3)
        else:
            ax.tick_params(labelbottom=False)

fig.savefig('out.png', dpi=200)
